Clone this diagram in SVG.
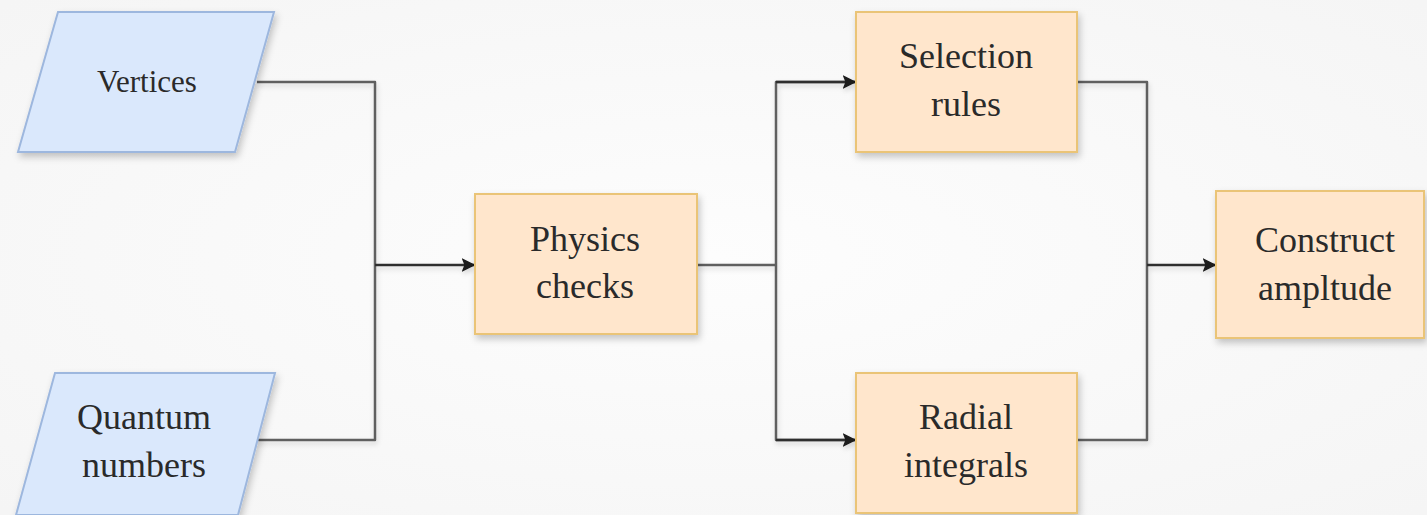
<svg xmlns="http://www.w3.org/2000/svg" width="1427" height="515" viewBox="0 0 1427 515">
  <defs>
    <radialGradient id="bg" cx="50%" cy="50%" r="70%">
      <stop offset="0" stop-color="#fdfdfd"/>
      <stop offset="1" stop-color="#f5f5f5"/>
    </radialGradient>
    <filter id="shadow" x="-10%" y="-10%" width="130%" height="140%">
      <feDropShadow dx="2" dy="4" stdDeviation="3.5" flood-color="#000" flood-opacity="0.22"/>
    </filter>
    <filter id="lineShadow" x="-5%" y="-5%" width="110%" height="110%">
      <feDropShadow dx="1" dy="3" stdDeviation="2.5" flood-color="#000" flood-opacity="0.15"/>
    </filter>
    <marker id="arrow" viewBox="0 0 10 10" refX="9" refY="5" markerWidth="5.5" markerHeight="5.5" orient="auto" markerUnits="strokeWidth">
      <path d="M0,0 L10,5 L0,10 L2,5 Z" fill="#1a1a1a"/>
    </marker>
  </defs>
  <style>
    .io { fill: #dae8fc; stroke: #9db7de; stroke-width: 2; }
    .proc { fill: #ffe6cc; stroke: #eac477; stroke-width: 2; }
    .label { font-family: "Liberation Serif", "Times New Roman", serif; font-size: 36px; fill: #2a2a2a; text-anchor: middle; }
    .small { font-size: 31px; }
    .wire { fill: none; stroke: #5e5e5e; stroke-width: 2.5; stroke-linejoin: round; }
    .lead { fill: none; stroke: #2e2e2e; stroke-width: 2.5; marker-end: url(#arrow); }
  </style>

  <rect width="1427" height="515" fill="url(#bg)"/>

  <!-- connectors -->
  <g id="connectors" filter="url(#lineShadow)">
    <path class="wire" d="M257,82 H375 V440 H257"/>
    <path class="lead" d="M375,265 H474"/>
    <path class="wire" d="M697,265 H776"/>
    <path class="wire" d="M855,82 H776 V440 H855"/>
    <path class="lead" d="M776,82 H855"/>
    <path class="lead" d="M776,440 H855"/>
    <path class="wire" d="M1077,82 H1147 V440 H1077"/>
    <path class="lead" d="M1147,265 H1215"/>
  </g>

  <!-- input: vertices -->
  <g id="vertices">
    <polygon class="io" filter="url(#shadow)" points="58,12 274,12 235,152 18,152"/>
    <text class="label small" x="147" y="92">Vertices</text>
  </g>

  <!-- input: quantum numbers -->
  <g id="quantum-numbers">
    <polygon class="io" filter="url(#shadow)" points="55,373 275,373 238,515 16,515"/>
    <text class="label" x="144" y="429">Quantum</text>
    <text class="label" x="144" y="477">numbers</text>
  </g>

  <!-- physics checks -->
  <g id="physics-checks">
    <rect class="proc" filter="url(#shadow)" x="475" y="194" width="222" height="140"/>
    <text class="label" x="585" y="251">Physics</text>
    <text class="label" x="585" y="298">checks</text>
  </g>

  <!-- selection rules -->
  <g id="selection-rules">
    <rect class="proc" filter="url(#shadow)" x="856" y="12" width="221" height="140"/>
    <text class="label" x="966" y="68">Selection</text>
    <text class="label" x="966" y="116">rules</text>
  </g>

  <!-- radial integrals -->
  <g id="radial-integrals">
    <rect class="proc" filter="url(#shadow)" x="856" y="373" width="221" height="140"/>
    <text class="label" x="966" y="429">Radial</text>
    <text class="label" x="966" y="477">integrals</text>
  </g>

  <!-- construct amplitude -->
  <g id="construct-amplitude">
    <rect class="proc" filter="url(#shadow)" x="1216" y="191" width="208" height="147"/>
    <text class="label" x="1325" y="252">Construct</text>
    <text class="label" x="1325" y="300">ampltude</text>
  </g>
</svg>
